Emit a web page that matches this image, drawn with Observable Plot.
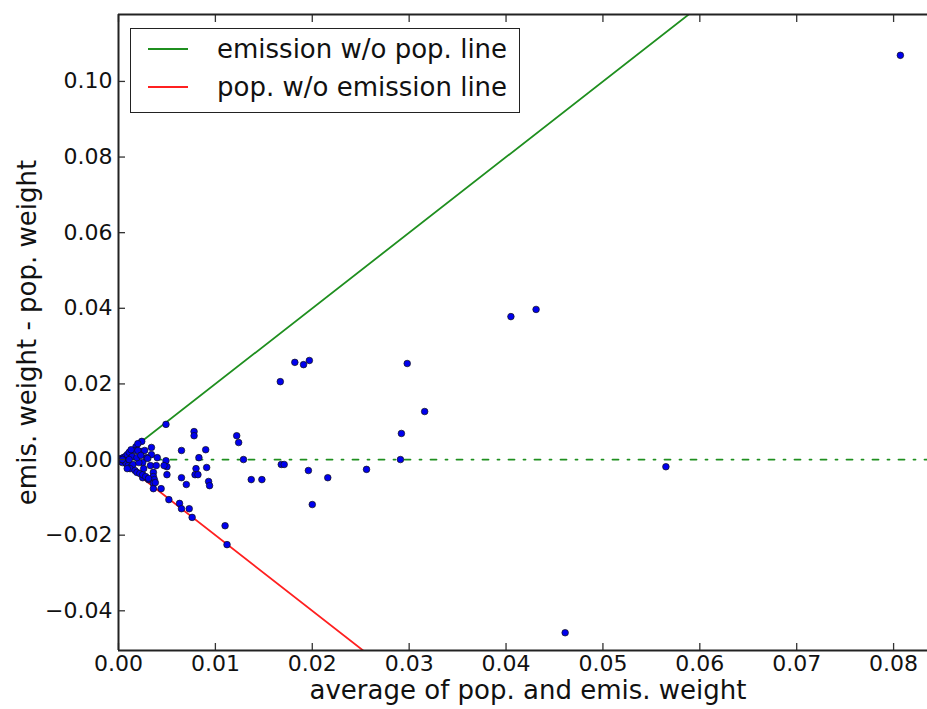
<!DOCTYPE html>
<html>
<head>
<meta charset="utf-8">
<script src="https://cdn.jsdelivr.net/npm/d3@7"></script>
<script src="https://cdn.jsdelivr.net/npm/@observablehq/plot@0.6"></script>
<style>
  html, body { margin: 0; padding: 0; background: #fff; }
  #wrap { position: relative; width: 927px; height: 709px; font-family: "DejaVu Sans", sans-serif; }
  #legend { position: absolute; left: 130px; top: 28px; width: 388px; height: 83px; border: 1.5px solid #222; background: #fff; box-sizing: content-box; }
  .row { position: absolute; left: 0; height: 38px; display: flex; align-items: center; }
  .row .sw { width: 40px; height: 0; border-top: 2px solid; margin-left: 17px; margin-right: 29px; }
  .row .lb { font-size: 26px; color: #111; white-space: nowrap; }
</style>
</head>
<body>
<div id="wrap"></div>
<script>
// scatter data: x = average of pop. and emis. weight, y = emis. weight - pop. weight
const avgWeight = [
  0.0807, 0.0431, 0.0405, 0.0298, 0.0316, 0.0292, 0.0291, 0.0256, 0.0565, 0.0461,
  0.0182, 0.0191, 0.0197, 0.0167, 0.0168, 0.0171, 0.0196, 0.0200, 0.0216, 0.0148,
  0.0137, 0.0129, 0.0122, 0.0124, 0.0110, 0.0112, 0.0049, 0.0024, 0.0078, 0.0078,
  0.0065, 0.0090, 0.0083, 0.0080, 0.0091, 0.0079, 0.0082, 0.0065, 0.0070, 0.0093,
  0.0094, 0.0049, 0.0050, 0.0050, 0.0052, 0.0063, 0.0065, 0.0073, 0.0076,
  0.0034, 0.0034, 0.0040, 0.0029, 0.0033, 0.0025, 0.0024, 0.0018, 0.0017, 0.0036,
  0.0036, 0.0037, 0.0031, 0.0025, 0.0036, 0.0036, 0.0044, 0.0003, 0.0005, 0.0007,
  0.0009, 0.0011, 0.0013, 0.0020, 0.0020, 0.0027, 0.0030, 0.0047, 0.0039, 0.0002,
  0.0004, 0.0006, 0.0008, 0.0010, 0.0013, 0.0015, 0.0012, 0.0017, 0.0019, 0.0022,
  0.0025, 0.0028, 0.0031, 0.0038, 0.0026, 0.0021, 0.0009, 0.0001, 0.0004, 0.0014,
  0.0011, 0.0019, 0.0023
];
const diffWeight = [
  0.1069, 0.0397, 0.0378, 0.0254, 0.0127, 0.0069, 0.0000, -0.0026, -0.0019, -0.0458,
  0.0257, 0.0251, 0.0262, 0.0206, -0.0013, -0.0013, -0.0029, -0.0119, -0.0048, -0.0053,
  -0.0053, 0.0000, 0.0063, 0.0045, -0.0175, -0.0225, 0.0093, 0.0048, 0.0074, 0.0063,
  0.0024, 0.0026, 0.0005, -0.0024, -0.0021, -0.0040, -0.0040, -0.0048, -0.0066, -0.0058,
  -0.0069, -0.0003, -0.0019, -0.0040, -0.0106, -0.0116, -0.0130, -0.0130, -0.0153,
  0.0032, 0.0013, 0.0005, 0.0005, -0.0016, -0.0008, 0.0021, 0.0034, 0.0024, -0.0034,
  -0.0045, -0.0053, -0.0053, -0.0048, -0.0063, -0.0077, -0.0077, 0.0003, 0.0005, 0.0008,
  0.0013, 0.0019, 0.0026, 0.0042, 0.0024, 0.0024, 0.0003, -0.0016, -0.0016, -0.0005,
  -0.0008, -0.0003, -0.0011, -0.0016, -0.0019, -0.0013, -0.0024, -0.0029, -0.0034, -0.0037,
  -0.0040, -0.0045, -0.0050, -0.0061, -0.0024, -0.0008, -0.0024, 0.0000, 0.0000, 0.0008,
  0.0000, 0.0005, 0.0011
];
// reference lines
const emisLineX = [0, 0.06];
const emisLineY = [0, 0.12];
const popLineX = [0, 0.03];
const popLineY = [0, -0.06];
const zeroLineX = [0, 0.0835];
// axes
const xDomain = [0, 0.0835];
const yDomain = [-0.0505, 0.1177];
const xTicks = [0, 0.01, 0.02, 0.03, 0.04, 0.05, 0.06, 0.07, 0.08];
const yTicks = [-0.04, -0.02, 0, 0.02, 0.04, 0.06, 0.08, 0.10];
const xLabel = "average of pop. and emis. weight";
const yLabel = "emis. weight - pop. weight";
const legendLabels = ["emission w/o pop. line", "pop. w/o emission line"];
const legendColors = ["#1f8f1f", "#ff2020"];

const points = avgWeight.map((x, i) => ({x, y: diffWeight[i]}));
const emisLine = emisLineX.map((x, i) => ({x, y: emisLineY[i]}));
const popLine = popLineX.map((x, i) => ({x, y: popLineY[i]}));
const zeroLine = zeroLineX.map(x => ({x, y: 0}));
const fmt = d3.format(".2f");

const chart = Plot.plot({
  width: 927,
  height: 709,
  marginLeft: 118,
  marginRight: 0,
  marginTop: 14,
  marginBottom: 59,
  style: {fontFamily: "DejaVu Sans", fontSize: "22px", color: "#111", background: "#fff"},
  x: {domain: xDomain},
  y: {domain: yDomain},
  marks: [
    Plot.line(emisLine, {x: "x", y: "y", stroke: legendColors[0], strokeWidth: 1.8, clip: true}),
    Plot.line(popLine, {x: "x", y: "y", stroke: legendColors[1], strokeWidth: 1.8, clip: true}),
    Plot.line(zeroLine, {x: "x", y: "y", stroke: legendColors[0], strokeWidth: 1.8, strokeDasharray: "6,9,2,9", clip: true}),
    Plot.dot(points, {x: "x", y: "y", r: 3.3, fill: "#0000ee", stroke: "#111", strokeWidth: 0.7, clip: true}),
    Plot.axisX({anchor: "bottom", ticks: xTicks, tickFormat: fmt, tickSize: -7, tickPadding: 12, stroke: "#333", strokeWidth: 1.3, label: null}),
    Plot.axisX({anchor: "top", ticks: xTicks, tickFormat: () => "", tickSize: -7, stroke: "#333", strokeWidth: 1.3, label: null}),
    Plot.axisY({anchor: "left", ticks: yTicks, tickFormat: fmt, tickSize: -7, tickPadding: 13, stroke: "#333", strokeWidth: 1.3, label: null}),
    Plot.ruleX([xDomain[0]], {stroke: "#222", strokeWidth: 2}),
    Plot.ruleY([yDomain[0]], {stroke: "#222", strokeWidth: 2}),
    Plot.ruleY([yDomain[1]], {stroke: "#222", strokeWidth: 2}),
    Plot.text([xLabel], {frameAnchor: "bottom", lineAnchor: "middle", textAnchor: "middle", dy: 40, dx: 5, fontSize: 26, fill: "#111"}),
    Plot.text([yLabel], {frameAnchor: "left", lineAnchor: "middle", textAnchor: "middle", dx: -91, rotate: -90, fontSize: 26, fill: "#111"})
  ]
});

const wrap = document.getElementById("wrap");
wrap.appendChild(chart);
const legend = document.createElement("div");
legend.id = "legend";
legendLabels.forEach((lab, i) => {
  const row = document.createElement("div");
  row.className = "row";
  row.style.top = (1 + i * 38) + "px";
  const sw = document.createElement("div");
  sw.className = "sw";
  sw.style.borderTopColor = legendColors[i];
  const lb = document.createElement("span");
  lb.className = "lb";
  lb.textContent = lab;
  row.appendChild(sw);
  row.appendChild(lb);
  legend.appendChild(row);
});
wrap.appendChild(legend);
</script>
</body>
</html>
